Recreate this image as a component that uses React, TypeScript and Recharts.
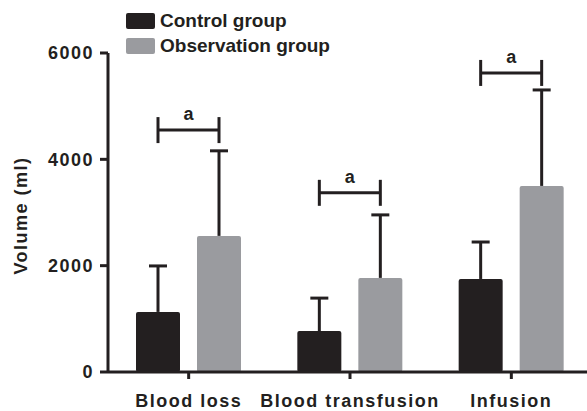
import React from 'react';
import { BarChart, Bar, XAxis, YAxis } from 'recharts';

const categories = ['Blood loss', 'Blood transfusion', 'Infusion'];
const controlMean = [1130, 770, 1750];
const controlSD = [865, 620, 695];
const observationMean = [2560, 1770, 3500];
const observationSD = [1600, 1185, 1805];
const significanceLevel = [4550, 3370, 5625];
const significanceLabel = ['a', 'a', 'a'];
const yTicks = [0, 2000, 4000, 6000];
const seriesNames = ['Control group', 'Observation group'];

const INK = '#231f20';
const GREY = '#9a9b9f';
const FONT = '"Liberation Sans", Arial, Helvetica, sans-serif';
const BAR_SIZE = 44;
const BAR_GAP = 17;

const data = categories.map((c, i) => ({
  category: c,
  control: controlMean[i],
  controlSD: controlSD[i],
  observation: observationMean[i],
  observationSD: observationSD[i],
  sig: significanceLevel[i],
  sigLabel: significanceLabel[i],
}));

const makeShape = (meanKey: string, sdKey: string, withBracket: boolean) => (props: any) => {
  const { x, y, width, height, payload, fill } = props;
  if (!payload || !isFinite(x) || !isFinite(y) || !isFinite(height) || !(height > 0) || !(width > 0) || width > 100) return null;
  const base = y + height;
  const k = height / payload[meanKey];
  const cx = x + width / 2;
  const errTop = base - (payload[meanKey] + payload[sdKey]) * k;
  const cap = 9;
  const els: any[] = [];
  els.push(<rect key="r" x={x} y={y} width={width} height={height} rx={2} ry={2} fill={fill} />);
  els.push(<line key="e" x1={cx} x2={cx} y1={y} y2={errTop} stroke={INK} strokeWidth={3} />);
  els.push(<line key="c" x1={cx - cap} x2={cx + cap} y1={errTop} y2={errTop} stroke={INK} strokeWidth={3} />);
  if (withBracket) {
    const by = base - payload.sig * k;
    const left = x - BAR_GAP - width / 2;
    const right = cx;
    const h = 13;
    els.push(<line key="bh" x1={left} x2={right} y1={by} y2={by} stroke={INK} strokeWidth={3} />);
    els.push(<line key="bl" x1={left} x2={left} y1={by - h} y2={by + h} stroke={INK} strokeWidth={3} />);
    els.push(<line key="br" x1={right} x2={right} y1={by - h} y2={by + h} stroke={INK} strokeWidth={3} />);
    els.push(
      <text key="bt" x={(left + right) / 2} y={by - 10} textAnchor="middle" fontFamily={FONT} fontWeight="bold" fontSize={18} fill={INK}>
        {payload.sigLabel}
      </text>
    );
  }
  return <g>{els}</g>;
};

const ControlShape = makeShape('control', 'controlSD', false);
const ObservationShape = makeShape('observation', 'observationSD', true);

const XTick = (props: any) => {
  const { x, y, payload } = props;
  return (
    <text x={x} y={y} dy="0.71em" textAnchor="middle" fontFamily={FONT} fontWeight="bold" fontSize={18} fill={INK} style={{ letterSpacing: '1.5px' }}>
      {payload.value}
    </text>
  );
};

const YTick = (props: any) => {
  const { x, y, payload } = props;
  return (
    <text x={x} y={y} dy="0.355em" textAnchor="end" fontFamily={FONT} fontWeight="bold" fontSize={18} fill={INK} style={{ letterSpacing: '1.5px' }}>
      {payload.value}
    </text>
  );
};

const YLabel = (props: any) => {
  const vb = props.viewBox || { x: 0, y: 53, width: 108, height: 319 };
  const cx = 21;
  const cy = vb.y + vb.height / 2 + 3;
  return (
    <text x={cx} y={cy} transform={`rotate(-90 ${cx} ${cy})`} dy="0.355em" textAnchor="middle" fontFamily={FONT} fontWeight="bold" fontSize={18} fill={INK} style={{ letterSpacing: '1.5px' }}>
      Volume (ml)
    </text>
  );
};

const colors = [INK, GREY];

const LegendBox = () => (
  <div style={{ position: 'absolute', top: 8, left: 126, fontFamily: FONT, fontWeight: 'bold', fontSize: 19, color: INK, lineHeight: 1 }}>
    {seriesNames.map((n, i) => (
      <div key={n} style={{ display: 'flex', alignItems: 'center', height: 25, whiteSpace: 'nowrap' }}>
        <span style={{ display: 'inline-block', width: 29, height: 16, borderRadius: 2, background: colors[i], marginRight: 5 }} />
        <span>{n}</span>
      </div>
    ))}
  </div>
);

export default function App() {
  return (
    <div style={{ position: 'absolute', left: 0, top: 0, width: 587, height: 411, background: '#fff', overflow: 'hidden' }}>
      <BarChart
        width={600}
        height={411}
        data={data}
        margin={{ top: 53, right: 8, bottom: 0, left: 2 }}
        barSize={BAR_SIZE}
        barGap={BAR_GAP}
      >
        <XAxis
          dataKey="category"
          height={39}
          axisLine={{ stroke: INK, strokeWidth: 3 }}
          tickLine={{ stroke: INK, strokeWidth: 3 }}
          tickSize={7}
          tickMargin={15}
          tick={<XTick />}
          interval={0}
        />
        <YAxis
          width={106}
          domain={[0, 6000]}
          ticks={yTicks}
          axisLine={{ stroke: INK, strokeWidth: 3 }}
          tickLine={{ stroke: INK, strokeWidth: 3 }}
          tickSize={8}
          tickMargin={6}
          tick={<YTick />}
          label={YLabel}
        />
        <Bar dataKey="control" name={seriesNames[0]} fill={INK} shape={ControlShape} isAnimationActive={false} />
        <Bar dataKey="observation" name={seriesNames[1]} fill={GREY} shape={ObservationShape} isAnimationActive={false} />
      </BarChart>
      <LegendBox />
    </div>
  );
}
